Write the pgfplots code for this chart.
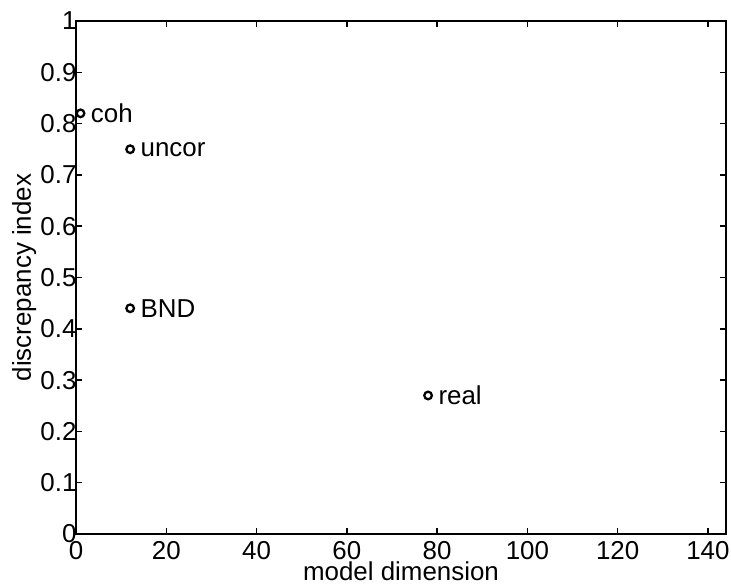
\documentclass[border=0pt]{standalone}
\usepackage{pgfplots}
\pgfplotsset{compat=1.18}
\usepackage{fontspec}
\setmainfont{Liberation Sans}
\begin{document}
\begin{tikzpicture}[x=1bp,y=1bp]
\begin{axis}[
  scale only axis,
  width=650bp, height=513bp,
  xmin=0, xmax=144, ymin=0, ymax=1,
  xtick={0,20,40,60,80,100,120,140},
  ytick={0,0.1,0.2,0.3,0.4,0.5,0.6,0.7,0.8,0.9,1},
  yticklabels={0,0.1,0.2,0.3,0.4,0.5,0.6,0.7,0.8,0.9,1},
  xticklabels={0,20,40,60,80,100,120,140},
  tick align=inside,
  major tick length=6bp,
  axis line style={line width=2.2bp},
  every tick/.style={line width=1.5bp, black},
  tick label style={font=\fontsize{26}{28}\selectfont},
  label style={font=\fontsize{26}{28}\selectfont},
  xticklabel style={anchor=north, yshift=-4bp},
  yticklabel style={xshift=4bp},
  xlabel={model dimension},
  ylabel={discrepancy index},
  xlabel style={at={(axis description cs:0.5,0)}, anchor=base, yshift=-46bp},
  ylabel style={at={(axis description cs:0,0.5)}, anchor=base, yshift=45bp},
  /pgf/number format/assume math mode=true,
]
\addplot[only marks, mark=o, mark size=3.8bp, black,
  mark options={line width=2.3bp, draw=black},
  point meta=explicit symbolic,
  nodes near coords,
  nodes near coords style={anchor=west, xshift=6bp, font=\fontsize{26}{28}\selectfont, black}]
  coordinates {
  (1,0.82) [coh]
  (12,0.75) [uncor]
  (12,0.44) [BND]
  (78,0.27) [real]
};
\end{axis}
\pgfresetboundingbox
\path ([shift={(-76bp,-54bp)}]current axis.south west) rectangle ([shift={(5bp,21bp)}]current axis.north east);
\end{tikzpicture}
\end{document}
